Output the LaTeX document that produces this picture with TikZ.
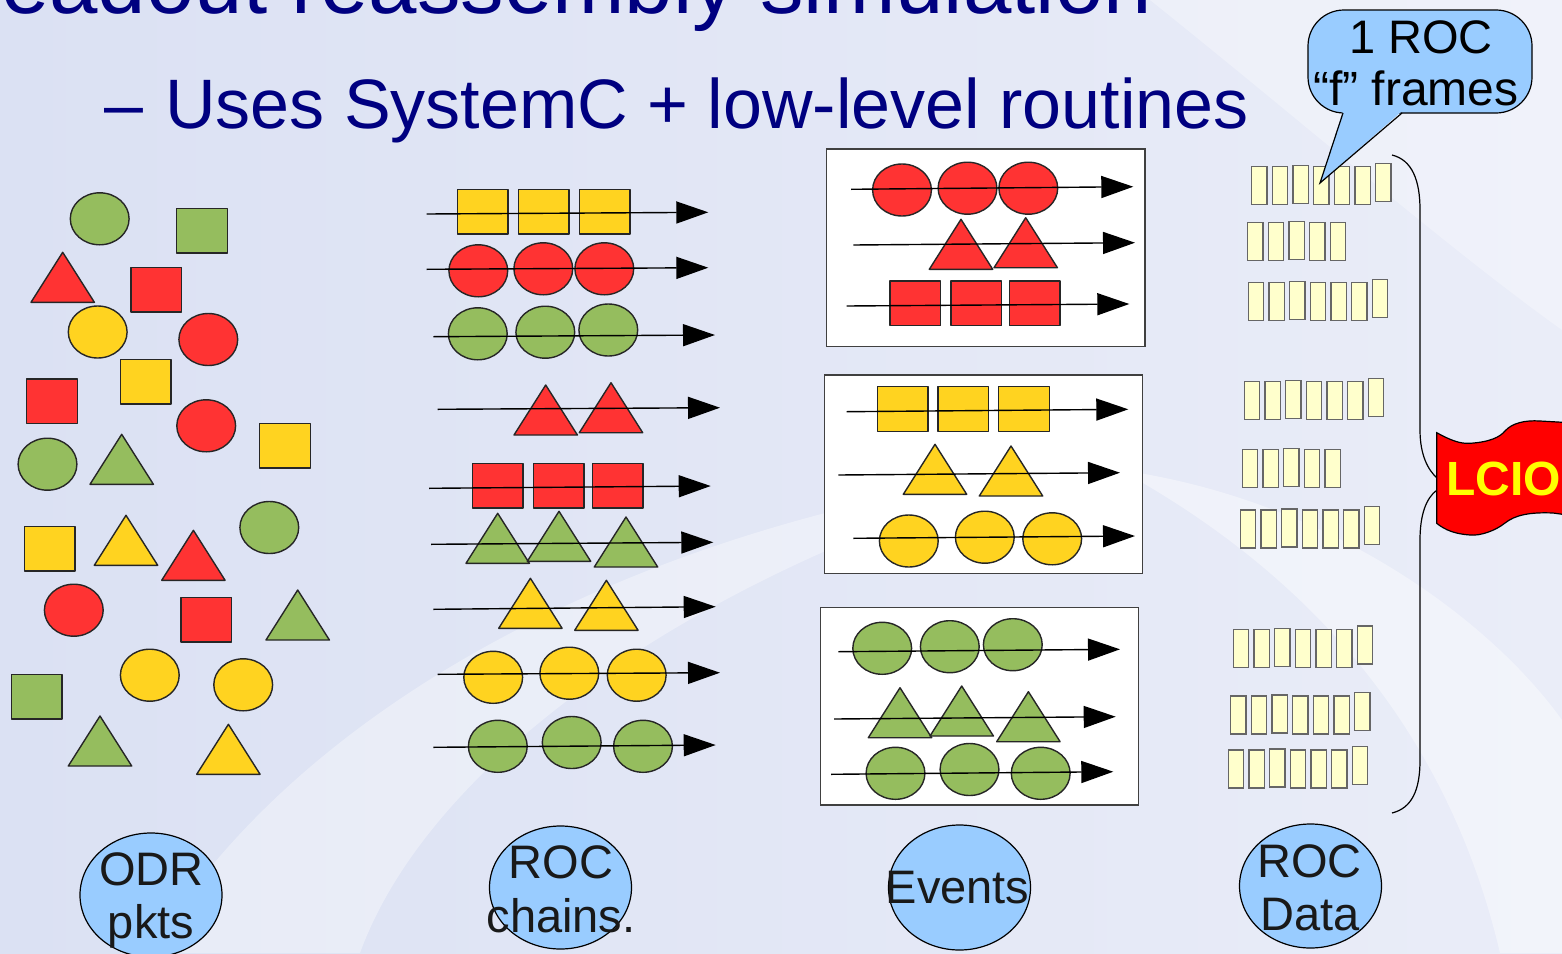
\documentclass[tikz,border=0pt]{standalone}
\usepackage{fontspec}
\setmainfont{Liberation Sans}
\usetikzlibrary{arrows.meta,shapes.geometric}

\definecolor{shgreen}{RGB}{149,189,94}
\definecolor{shred}{RGB}{255,51,51}
\definecolor{shyellow}{RGB}{255,211,32}
\definecolor{navy}{RGB}{0,0,128}
\definecolor{bubble}{RGB}{153,204,255}
\definecolor{framefill}{RGB}{255,255,204}
\definecolor{bgleft}{RGB}{219,225,243}
\definecolor{bgright}{RGB}{234,237,248}
\definecolor{flagred}{RGB}{255,0,0}
\definecolor{flagtext}{RGB}{255,255,0}

\tikzset{
  shp/.style={draw=black!85, line width=0.7pt, line join=round},
  flow/.style={line width=0.7pt, -{Triangle[length=16pt,width=11pt]}},
  frm/.style={draw=black!60, line width=0.7pt, fill=framefill},
  evbox/.style={draw=black!75, line width=0.7pt, fill=white},
  lab/.style={font=\fontsize{23.5}{28}\selectfont, text=black!90, inner sep=0pt, anchor=base},
  tag/.style={ellipse, draw=black, line width=0.6pt, fill=bubble, inner sep=0pt,
              minimum width=71pt, minimum height=62pt},
}

% ellipse given by centre; block given by top-left corner; triangle given by left end of base
\newcommand\pOval[3]{\draw[shp,fill=#3] (#1,#2) ellipse [x radius=29.4, y radius=26];}
\newcommand\pBox[3]{\draw[shp,fill=#3] (#1,#2) rectangle ++(50.5,44.5);}
\newcommand\pTri[3]{\draw[shp,fill=#3] (#1,#2) -- ++(63.4,0) -- ++(-31.7,-50) -- cycle;}
% a row of frames: left x, top y, count
\newcommand\framerow[3]{%
  \foreach \i in {1,...,#3}{%
    \pgfmathsetmacro\dy{\i==3 ? 1 : (\i==7 ? 3.5 : 0)}%
    \draw[frm] ({#1+(\i-1)*20.67},{#2-\dy}) rectangle ++(15.3,38);
  }}

\begin{document}
\begin{tikzpicture}[x=0.5pt,y=-0.5pt]
\useasboundingbox (0,0) rectangle (1562,953);
\begin{scope}
\clip (0,0) rectangle (1562,953);

% backdrop
\shade[left color=bgleft, right color=bgright] (0,0) rectangle (1562,953);
\fill[white, opacity=0.35] (150,953) .. controls (300,700) and (650,520) .. (1050,470)
   .. controls (700,570) and (430,760) .. (360,953) -- cycle;
\fill[white, opacity=0.4] (1120,470) .. controls (1330,500) and (1490,620) .. (1562,720)
   -- (1562,953) -- (1500,953) .. controls (1450,740) and (1320,580) .. (1120,470) -- cycle;
\fill[white, opacity=0.3] (1150,0) .. controls (1300,120) and (1450,250) .. (1562,330)
   -- (1562,0) -- cycle;

% headings
\node[anchor=base west, inner sep=0pt, text=navy, font=\fontsize{43.5}{50}\selectfont]
  (title) at (-62,13) {Readout reassembly simulation};
\node[anchor=base west, inner sep=0pt, text=navy, font=\fontsize{35}{40}\selectfont]
  (dash) at (104,128) {–};
\node[anchor=base west, inner sep=0pt, text=navy, font=\fontsize{35}{40}\selectfont]
  (subtitle) at (165,128) {Uses SystemC + low-level routines};

% ODR packets, unordered
\pOval{99.7}{218.8}{shgreen}
\pBox{176.7}{208.3}{shgreen}
\pTri{31}{302.3}{shred}
\pBox{131}{267.3}{shred}
\pOval{97.7}{332}{shyellow}
\pOval{208.3}{339.5}{shred}
\pBox{120.3}{359.3}{shyellow}
\pBox{26.7}{379}{shred}
\pOval{206.2}{425.8}{shred}
\pBox{259.7}{423.3}{shyellow}
\pOval{47.5}{464.2}{shgreen}
\pTri{90}{484.3}{shgreen}
\pBox{24.3}{526.3}{shyellow}
\pTri{94.3}{565.3}{shyellow}
\pTri{161.7}{580.3}{shred}
\pOval{269.3}{527.5}{shgreen}
\pOval{73.8}{610.2}{shred}
\pBox{181}{597.3}{shred}
\pTri{266}{640}{shgreen}
\pOval{149.8}{675.2}{shyellow}
\pOval{243.2}{684.8}{shyellow}
\pBox{11.3}{674.3}{shgreen}
\pTri{68.3}{766}{shgreen}
\pTri{196.7}{774.3}{shyellow}

% ROC chains
\pBox{457.3}{189.3}{shyellow} \pBox{518.3}{189.3}{shyellow} \pBox{579.3}{189.3}{shyellow}
\pOval{478.3}{270.8}{shred} \pOval{543.3}{268.8}{shred} \pOval{604.3}{268.8}{shred}
\pOval{477.8}{333.8}{shgreen} \pOval{545.3}{332.2}{shgreen} \pOval{608.3}{330}{shgreen}
\pTri{514}{435}{shred} \pTri{579.3}{432.7}{shred}
\pBox{472.3}{463.3}{shred} \pBox{533.3}{463.3}{shred} \pBox{592.3}{463.3}{shred}
\pTri{466}{563.3}{shgreen} \pTri{527.3}{561.3}{shgreen} \pTri{594.3}{567}{shgreen}
\pTri{498.7}{628.3}{shyellow} \pTri{574.7}{630.3}{shyellow}
\pOval{493.2}{677.3}{shyellow} \pOval{569.3}{673.2}{shyellow} \pOval{636.7}{675.2}{shyellow}
\pOval{497.8}{746.3}{shgreen} \pOval{571.7}{742.5}{shgreen} \pOval{643}{746.3}{shgreen}

\draw[flow] (426.7,214) -- (708.3,212.3);
\draw[flow] (426.7,269.3) -- (708.3,267.7);
\draw[flow] (433.3,336.7) -- (715,335);
\draw[flow] (437.7,409.3) -- (720,407.7);
\draw[flow] (429,488.3) -- (710.7,486);
\draw[flow] (431,544.3) -- (713.3,542.3);
\draw[flow] (433.3,609.3) -- (715.7,606.7);
\draw[flow] (437.7,674.3) -- (720,672.7);
\draw[flow] (433.3,747.3) -- (715.7,745);

% Events
\draw[evbox] (826.7,149) rectangle (1145,346.7);
\draw[evbox] (824.3,375) rectangle (1142.3,573.3);
\draw[evbox] (820.7,607.3) rectangle (1138.3,805);

\pOval{902}{190}{shred} \pOval{967.5}{188.2}{shred} \pOval{1028.3}{188.2}{shred}
\pTri{929.3}{269.3}{shred} \pTri{994}{267.7}{shred}
\pBox{890}{281}{shred} \pBox{951}{281}{shred} \pBox{1009.3}{281}{shred}

\pBox{877.3}{386.7}{shyellow} \pBox{938}{386.7}{shyellow} \pBox{998.7}{386.7}{shyellow}
\pTri{903.3}{494.3}{shyellow} \pTri{979.3}{496}{shyellow}
\pOval{908.8}{541}{shyellow} \pOval{984.8}{537.2}{shyellow} \pOval{1052.2}{538.8}{shyellow}

\pOval{882.2}{648.3}{shgreen} \pOval{949.8}{646.7}{shgreen} \pOval{1012.8}{644.7}{shgreen}
\pTri{868.3}{737.7}{shgreen} \pTri{930}{736}{shgreen} \pTri{996.7}{741.7}{shgreen}
\pOval{895.5}{773.3}{shgreen} \pOval{969.5}{769.5}{shgreen} \pOval{1040.7}{773.3}{shgreen}

\draw[flow] (851,189.3) -- (1133.3,186.7);
\draw[flow] (853.3,245) -- (1135,242.7);
\draw[flow] (846.7,306) -- (1129.3,304);
\draw[flow] (846.7,411.7) -- (1128.3,409.3);
\draw[flow] (838.3,475) -- (1120,472.7);
\draw[flow] (853.3,538.3) -- (1135,536);
\draw[flow] (838.3,651.7) -- (1120,649.3);
\draw[flow] (834,719) -- (1115.7,716.7);
\draw[flow] (831,774.3) -- (1113.3,771.7);

% ROC data frames
\framerow{1251.7}{166.7}{7}
\framerow{1247.7}{222.7}{5}
\framerow{1248.3}{282.7}{7}
\framerow{1244.3}{381.7}{7}
\framerow{1242.3}{449.3}{5}
\framerow{1240.3}{510}{7}
\framerow{1233.3}{629.3}{7}
\framerow{1230.7}{696}{7}
\framerow{1228.3}{750}{7}

% brace gathering the frames
\draw[line width=0.6pt] (1392,155) .. controls (1412,160) and (1420,180) .. (1420,210)
   -- (1420,430) .. controls (1420,455) and (1428,470) .. (1437,478);
\draw[line width=0.6pt] (1437,490) .. controls (1426,498) and (1420,515) .. (1420,540)
   -- (1420,760) .. controls (1420,790) and (1412,808) .. (1392,813);

% LCIO flag
\draw[line width=0.6pt, fill=flagred] (1436.7,432.7) .. controls (1450,440) and (1460,444) .. (1470,443.3)
   .. controls (1490,442) and (1500,437) .. (1505,431)
   .. controls (1512,423) and (1525,420) .. (1540,421) -- (1575,423)
   -- (1575,516) -- (1553,513) .. controls (1530,512) and (1515,515) .. (1505,523)
   .. controls (1495,531) and (1480,536) .. (1470,535)
   .. controls (1455,534) and (1445,530) .. (1436.7,523.3) -- cycle;
\node[anchor=base west, inner sep=0pt, text=flagtext, font=\bfseries\fontsize{24}{28}\selectfont]
  (lcio) at (1446,495) {LCIO};

% callout
\draw[line width=0.6pt, fill=bubble, rounded corners=18] (1308,10) rectangle (1532,113);
\fill[bubble] (1343,111) -- (1320,183) -- (1402,111) -- cycle;
\draw[line width=0.6pt] (1343,113) -- (1320,183) -- (1402,113);
\node[anchor=base, inner sep=0pt, font=\fontsize{23.5}{26}\selectfont] (c1) at (1421,53) {1 ROC};
\node[anchor=base, inner sep=0pt, font=\fontsize{24}{26}\selectfont] (c2) at (1416,105) {“f” frames};

% stage labels
\node[tag] (odr) at (151,895) {};
\node[lab] (odrA) at (151.5,885) {ODR};
\node[lab] (odrB) at (151,938) {pkts};
\node[tag, minimum height=61.5pt] (roc) at (560.5,887.5) {};
\node[lab] (rocA) at (561,878) {ROC};
\node[lab] (rocB) at (561,932) {chains.};
\node[tag, minimum height=62.5pt] (evt) at (959.5,887.5) {};
\node[lab] (evtA) at (957.5,903) {Events};
\node[tag] (dat) at (1310.5,886) {};
\node[lab] (datA) at (1309.5,877) {ROC};
\node[lab] (datB) at (1310,930) {Data};
\end{scope}
\end{tikzpicture}
\end{document}
